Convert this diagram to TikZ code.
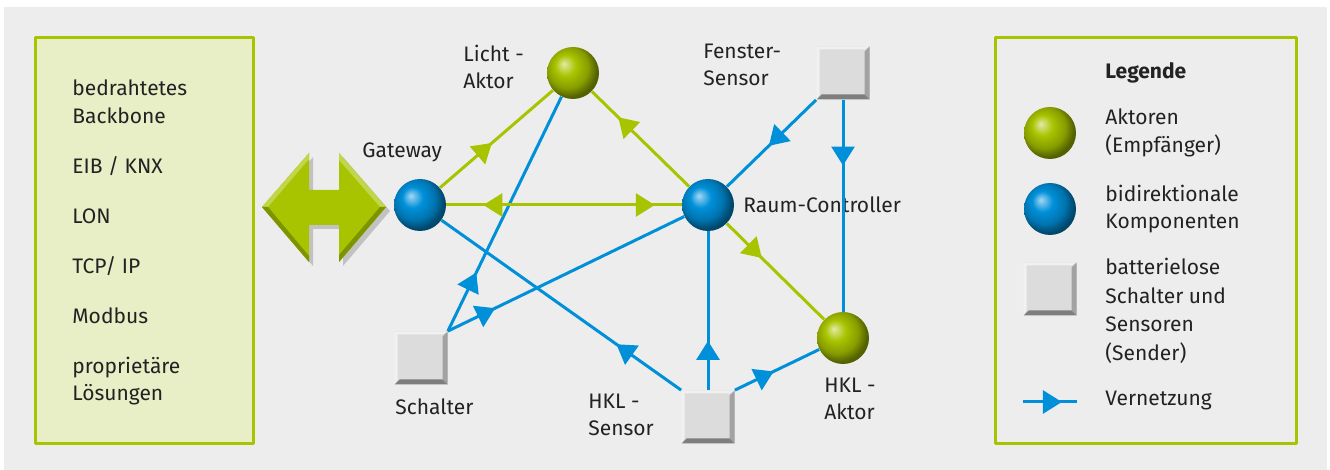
\documentclass[tikz,border=0pt]{standalone}
\usepackage{fontspec}
\setmainfont{Fira Sans}
\usetikzlibrary{arrows.meta,decorations.markings}
\definecolor{gruen}{HTML}{A8C400}
\definecolor{blau}{HTML}{0090DA}
\definecolor{hell}{HTML}{E8EEC6}
\definecolor{grund}{HTML}{EDEDED}
\definecolor{sqgray}{HTML}{DCDCDC}
\definecolor{sqdark}{HTML}{7E7E7E}
\definecolor{sqmid}{HTML}{A2A2A2}
\definecolor{schrift}{HTML}{222222}
\pgfdeclareradialshading{gruenkugel}{\pgfpoint{-9bp}{9bp}}{color(0bp)=(gruen!35!white); color(10bp)=(gruen); color(20bp)=(gruen!80!black); color(27bp)=(gruen!50!black); color(50bp)=(gruen!40!black)}
\pgfdeclareradialshading{blaukugel}{\pgfpoint{-9bp}{9bp}}{color(0bp)=(blau!35!white); color(10bp)=(blau); color(20bp)=(blau!80!black); color(27bp)=(blau!50!black); color(50bp)=(blau!40!black)}
\tikzset{
	kugel/.style={circle, minimum size=26pt, inner sep=0pt, shading=#1kugel},
	kasten/.style={rectangle, minimum size=26.5pt, inner sep=0pt, fill=sqgray,
		path picture={
			\fill[sqmid] (path picture bounding box.south east) -- (path picture bounding box.north east) -- ([shift={(-2.5pt,-2.5pt)}]path picture bounding box.north east) -- ([shift={(-2.5pt,2.5pt)}]path picture bounding box.south east) -- cycle;
			\fill[sqdark] (path picture bounding box.south west) -- (path picture bounding box.south east) -- ([shift={(-2.5pt,2.5pt)}]path picture bounding box.south east) -- ([shift={(2.5pt,2.5pt)}]path picture bounding box.south west) -- cycle;
			\fill[white!60!sqgray] (path picture bounding box.south west) -- (path picture bounding box.north west) -- (path picture bounding box.north east) -- ([shift={(-2.5pt,-1.5pt)}]path picture bounding box.north east) -- ([shift={(1.5pt,-1.5pt)}]path picture bounding box.north west) -- ([shift={(1.5pt,2.5pt)}]path picture bounding box.south west) -- cycle;
		}},
	netz/.style={line width=1.5pt, color=#1},
	pfeil/.style={postaction={decorate, decoration={markings, mark=at position #1 with {\arrow{Triangle[length=9.5pt,width=11.5pt]}}}}},
	rpfeil/.style={postaction={decorate, decoration={markings, mark=at position #1 with {\arrowreversed{Triangle[length=9.5pt,width=11.5pt]}}}}},
	txt/.style={anchor=west, align=left, inner sep=0pt, text=schrift, font=\fontsize{10.5}{13.8}\selectfont}
}
\begin{document}
\begin{tikzpicture}[x=0.5pt, y=-0.5pt, line join=round]
	\useasboundingbox (0,0) rectangle (1330,470);
	\fill[grund] (4,7) rectangle (1327,470);
	% Backbone-Kasten links
	\draw[line width=1.5pt, draw=gruen, fill=hell] (35,38) rectangle (253,444);
	\foreach \y/\t in {102/{bedrahtetes\\Backbone}, 166/{EIB / KNX}, 216/LON, 266/{TCP/ IP}, 316/Modbus, 381/{propriet\"are\\L\"osungen}}
		\node[txt] (bb\y) at (72,\y) {\t};
	\fill[black, opacity=0.18] (266,211)--(313,157)--(313,194)--(343,194)--(343,157)--(390,211)--(343,266)--(343,229)--(313,229)--(313,266)--cycle;
	\fill[gruen] (262,207)--(309,153)--(309,190)--(339,190)--(339,153)--(386,207)--(339,262)--(339,225)--(309,225)--(309,262)--cycle;
	\fill[gruen!70!white] (262,207)--(309,153)--(309,159)--(268,207)--cycle;
	\fill[gruen!70!white] (339,153)--(386,207)--(380,207)--(339,160)--cycle;
	\fill[gruen!75!black] (262,207)--(309,262)--(309,256)--(268,207)--cycle;
	\fill[gruen!75!black] (386,207)--(339,262)--(339,255)--(380,207)--cycle;
	% Legende rechts
	\draw[line width=1.5pt, draw=gruen] (995,38) rectangle (1296,444);
	\node[txt, font=\fontsize{10.5}{13.8}\selectfont\bfseries] (leg) at (1105,73) {Legende};
	\node[kugel=gruen] (lega) at (1050,133) {};
	\node[txt] (legat) at (1105,133) {Aktoren\\(Empf\"anger)};
	\node[kugel=blau] (legb) at (1050,209) {};
	\node[txt] (legbt) at (1105,209) {bidirektionale\\Komponenten};
	\node[kasten] (legs) at (1050,289) {};
	\node[txt, font=\fontsize{10.5}{14.3}\selectfont] (legst) at (1105,311) {batterielose\\Schalter und\\Sensoren\\(Sender)};
	\coordinate (legl) at (1023,402);
	\coordinate (legr) at (1077,402);
	\draw[netz=blau, pfeil=0.72] (legl) -- (legr);
	\node[txt] (legnt) at (1105,401) {Vernetzung};
	% Komponenten
	\node[kugel=blau] (gw) at (420,205) {};
	\node[kugel=gruen] (licht) at (573,73) {};
	\node[kasten] (fenster) at (843,73) {};
	\node[kugel=blau] (raum) at (708,205) {};
	\node[kasten] (schalter) at (421,358) {};
	\node[kasten] (hklsen) at (708,417) {};
	\node[kugel=gruen] (hklakt) at (843,338) {};
	\node[txt] (gwt) at (362,152) {Gateway};
	\node[txt] (lichtt) at (463,67) {Licht -\\Aktor};
	\node[txt] (fenstert) at (703,65) {Fenster-\\Sensor};
	\node[txt] (raumt) at (743,205) {Raum-Controller};
	\node[txt] (schaltert) at (395,407) {Schalter};
	\node[txt] (hklsent) at (588,415) {HKL -\\Sensor};
	\node[txt] (hklaktt) at (824,399) {HKL -\\Aktor};
	% Vernetzung
	\draw[netz=blau, pfeil=0.53] (fenster.south west) -- (raum);
	\draw[netz=blau, pfeil=0.31] (fenster.south) -- (hklakt);
	\draw[netz=blau, pfeil=0.25] (schalter.north east) -- (licht);
	\draw[netz=blau, pfeil=0.20] (schalter.north east) -- (raum);
	\draw[netz=blau, pfeil=0.27] (hklsen.north west) -- (gw);
	\draw[netz=blau, pfeil=0.31] (hklsen.north) -- (raum);
	\draw[netz=blau, pfeil=0.46] (hklsen.north east) -- (hklakt);
	\draw[netz=gruen, pfeil=0.46] (gw) -- (licht);
	\draw[netz=gruen, rpfeil=0.157, pfeil=0.886] (gw) -- (raum);
	\draw[netz=gruen, pfeil=0.73] (raum) -- (licht);
	\draw[netz=gruen, pfeil=0.36] (raum) -- (hklakt);
\end{tikzpicture}
\end{document}
